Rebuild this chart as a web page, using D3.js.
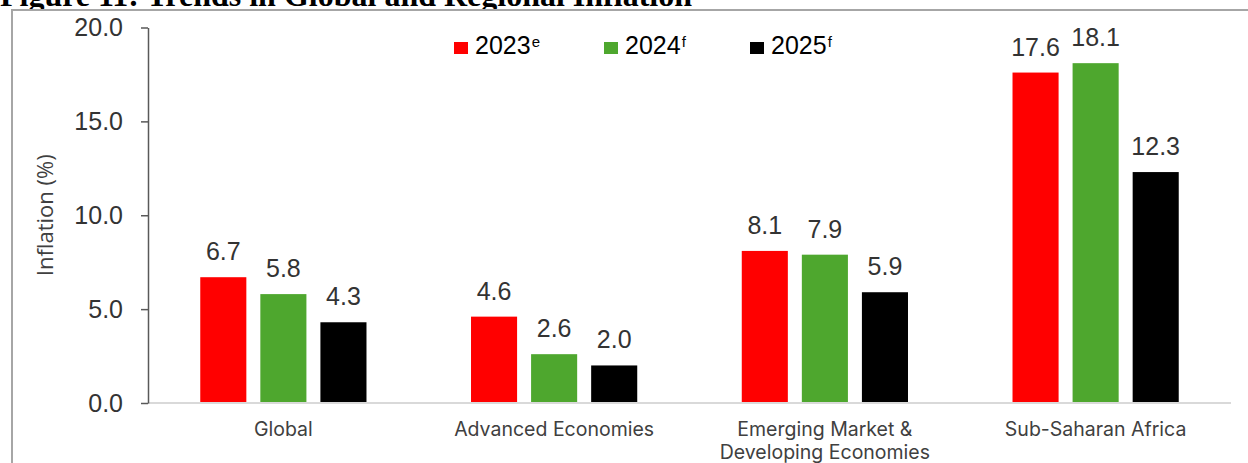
<!DOCTYPE html>
<html>
<head>
<meta charset="utf-8">
<script src="https://cdn.jsdelivr.net/npm/d3@7"></script>
<style>
  body { margin: 0; background: #fff; }
  svg { display: block; }
</style>
</head>
<body>
<div id="chart"></div>
<script>
const width = 1248;
const height = 463;

// data
const categories = ['Global', 'Advanced Economies', 'Emerging Market & Developing Economies', 'Sub-Saharan Africa'];
const categoryLines = [['Global'], ['Advanced Economies'], ['Emerging Market &', 'Developing Economies'], ['Sub-Saharan Africa']];
const seriesNames = ['2023', '2024', '2025'];
const seriesSup = ['e', 'f', 'f'];
const seriesColors = ['#ff0000', '#4ea72e', '#000000'];
const values2023 = [6.7, 4.6, 8.1, 17.6];
const values2024 = [5.8, 2.6, 7.9, 18.1];
const values2025 = [4.3, 2.0, 5.9, 12.3];
const yTicks = [0, 5, 10, 15, 20];

const series = [values2023, values2024, values2025];

const svg = d3.select('#chart')
  .append('svg')
  .attr('width', width)
  .attr('height', height);

// title, cut at the top like the source
svg.append('text')
  .attr('x', 0)
  .attr('y', 6)
  .attr('font-family', 'Liberation Serif, Times New Roman, serif')
  .attr('font-weight', 'bold')
  .attr('font-size', 32)
  .attr('fill', '#000')
  .text('Figure 11: Trends in Global and Regional Inflation');

// chart frame
svg.append('rect')
  .attr('x', 12)
  .attr('y', 10)
  .attr('width', 1260)
  .attr('height', 480)
  .attr('fill', '#fff')
  .attr('stroke', '#a6a6a6')
  .attr('stroke-width', 2);

const x = d3.scaleBand()
  .domain(categories)
  .range([148, 1231])
  .padding(0);

const xSub = d3.scaleBand()
  .domain(d3.range(series.length))
  .range([0, x.bandwidth()])
  .paddingInner(0.233)
  .paddingOuter(0.87);

const y = d3.scaleLinear()
  .domain([0, 20])
  .range([403, 27.5]);

// bars
const groups = svg.append('g')
  .selectAll('g')
  .data(series)
  .join('g')
    .attr('fill', (d, i) => seriesColors[i]);

groups.each(function(vals, si) {
  const g = d3.select(this);
  g.selectAll('rect')
    .data(vals)
    .join('rect')
      .attr('x', (d, i) => x(categories[i]) + xSub(si))
      .attr('y', d => y(d))
      .attr('width', xSub.bandwidth())
      .attr('height', d => y(0) - y(d));

  g.selectAll('text')
    .data(vals)
    .join('text')
      .attr('x', (d, i) => x(categories[i]) + xSub(si) + xSub.bandwidth() / 2)
      .attr('y', d => y(d) - 17)
      .attr('text-anchor', 'middle')
      .attr('font-family', 'Liberation Sans, Arial, sans-serif')
      .attr('font-size', 25)
      .attr('fill', '#333')
      .text(d => d.toFixed(1));
});

// baseline
svg.append('line')
  .attr('x1', 148)
  .attr('x2', 1231)
  .attr('y1', y(0))
  .attr('y2', y(0))
  .attr('stroke', '#d9d9d9')
  .attr('stroke-width', 2);

// y axis
const yAxis = svg.append('g')
  .attr('transform', 'translate(148,0)')
  .call(d3.axisLeft(y).tickValues(yTicks).tickFormat(d3.format('.1f')).tickSize(7).tickSizeOuter(0).tickPadding(18));

yAxis.select('.domain').attr('stroke', '#595959').attr('stroke-width', 1.5);
yAxis.selectAll('.tick line').attr('stroke', '#595959').attr('stroke-width', 1.5);
yAxis.selectAll('.tick text')
  .attr('font-family', 'Liberation Sans, Arial, sans-serif')
  .attr('font-size', 25)
  .attr('fill', '#333');

svg.append('text')
  .attr('transform', `translate(53,${(y(0) + y(20)) / 2}) rotate(-90)`)
  .attr('text-anchor', 'middle')
  .attr('font-family', 'Open Sans, sans-serif')
  .attr('font-size', 22)
  .attr('fill', '#404040')
  .text('Inflation (%)');

// category labels
svg.append('g')
  .selectAll('text')
  .data(categoryLines)
  .join('text')
    .attr('x', (d, i) => x(categories[i]) + x.bandwidth() / 2)
    .attr('y', 436)
    .attr('text-anchor', 'middle')
    .attr('font-family', 'Inter, sans-serif')
    .attr('font-size', 19.5)
    .attr('fill', '#404040')
    .each(function(lines) {
      d3.select(this).selectAll('tspan')
        .data(lines)
        .join('tspan')
          .attr('x', d3.select(this).attr('x'))
          .attr('dy', (d, i) => i === 0 ? 0 : 23)
          .text(d => d);
    });

// legend
const legendX = [454, 604, 750];
const legend = svg.append('g')
  .selectAll('g')
  .data(seriesNames)
  .join('g')
    .attr('transform', (d, i) => `translate(${legendX[i]},42)`);

legend.append('rect')
  .attr('width', 14)
  .attr('height', 12)
  .attr('fill', (d, i) => seriesColors[i]);

const legendText = legend.append('text')
  .attr('x', 21)
  .attr('y', 12)
  .attr('font-family', 'Liberation Sans, Arial, sans-serif')
  .attr('font-size', 25)
  .attr('fill', '#000');

legendText.append('tspan').text(d => d);
legendText.append('tspan')
  .attr('font-size', 15)
  .attr('dx', 1)
  .attr('dy', -7)
  .text((d, i) => seriesSup[i]);
</script>
</body>
</html>
